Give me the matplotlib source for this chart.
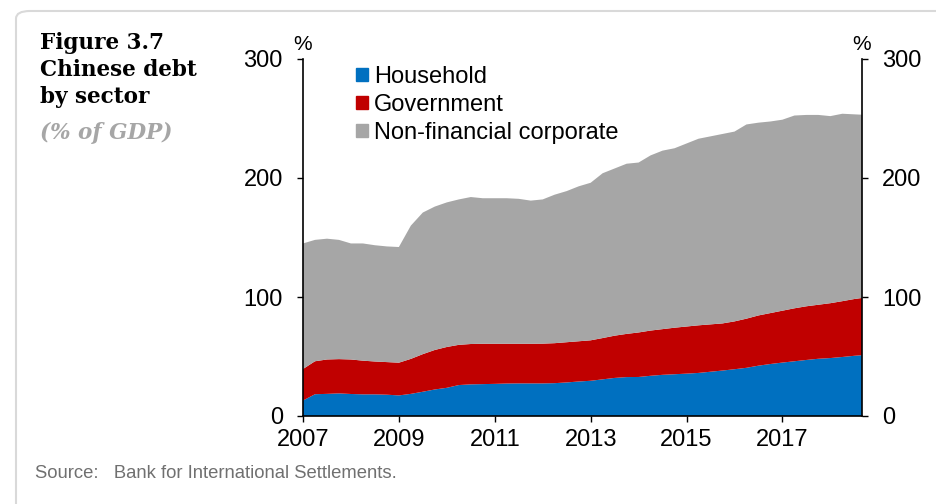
import matplotlib.pyplot as plt
import numpy as np
from matplotlib.patches import FancyBboxPatch, Patch

# quarterly, 2007Q1 .. 2018Q4 placed on a decimal-year axis
years = 2007 + np.arange(48) / 4

household = [13.0, 18.3, 18.6, 19.0, 18.5, 18.2, 18.2, 17.9, 17.3, 18.6, 20.4, 22.3,
             23.7, 26.0, 26.6, 26.8, 27.0, 27.3, 27.4, 27.4, 27.4, 27.6, 28.2, 29.0,
             29.6, 30.8, 32.0, 32.7, 32.8, 33.8, 34.6, 35.1, 35.6, 36.2, 37.2, 38.2,
             39.3, 40.5, 42.3, 43.7, 44.9, 46.0, 47.1, 48.1, 48.7, 49.6, 50.6, 51.4]
government = [26.5, 27.7, 28.9, 28.8, 29.0, 28.3, 27.6, 27.4, 27.5, 29.4, 31.6, 33.2,
              34.3, 33.8, 33.9, 33.9, 33.7, 33.4, 33.3, 33.3, 33.4, 33.6, 33.8, 33.8,
              34.0, 34.7, 35.5, 36.3, 37.4, 38.0, 38.4, 39.1, 39.6, 40.0, 39.8, 39.6,
              40.2, 41.3, 42.2, 42.8, 43.6, 44.5, 45.1, 45.4, 46.1, 46.9, 47.7, 48.3]
corporate = [105.5, 102.0, 101.5, 100.2, 97.5, 98.5, 97.7, 97.2, 97.2, 112.0, 119.0, 120.5,
             121.5, 122.2, 123.5, 122.3, 122.3, 122.3, 121.8, 120.3, 121.2, 124.8, 127.0, 130.2,
             132.4, 138.5, 140.5, 143.0, 142.8, 147.2, 150.0, 150.8, 153.8, 156.8, 158.0, 159.2,
             159.5, 163.2, 162.0, 161.0, 160.5, 162.0, 160.8, 159.5, 157.2, 157.5, 155.2, 153.3]

labels = ['Household', 'Government', 'Non-financial corporate']
colors = ['#0070C0', '#C00000', '#A6A6A6']
xticks = [2007, 2009, 2011, 2013, 2015, 2017]
yticks = [0, 100, 200, 300]

plt.rcParams['font.family'] = ['Liberation Sans', 'DejaVu Sans']

fig = plt.figure(figsize=(9.37, 5.04), dpi=100)

# rounded frame of the panel
frame = FancyBboxPatch((16 / 937, -0.2), 1.2, 1.2 - 11 / 504,
                       boxstyle='round,pad=0,rounding_size=0.015',
                       transform=fig.transFigure, fill=False,
                       edgecolor='#d9d9d9', linewidth=1.5)
fig.patches.append(frame)

fig.text(40 / 937, 1 - 32 / 504, 'Figure 3.7\nChinese debt\nby sector',
         family='DejaVu Serif', weight='bold', fontsize=15.5, va='top',
         linespacing=1.3)
fig.text(40 / 937, 1 - 122 / 504, '(% of GDP)', family='DejaVu Serif',
         weight='bold', style='italic', fontsize=15.5, color='#a6a6a6', va='top')

ax = fig.add_axes([303 / 937, 88 / 504, 559 / 937, 357 / 504])
ax.stackplot(years, household, government, corporate, colors=colors,
             labels=labels, linewidth=0)

ax.set_xlim(2007, 2018.66)
ax.set_ylim(0, 300)
ax.set_xticks(xticks)
ax.set_yticks(yticks)
ax.tick_params(axis='both', labelsize=17, direction='out', length=4.5, width=1)
ax.tick_params(axis='y', left=True, right=True, labelleft=True, labelright=True, pad=10)
ax.tick_params(axis='x', pad=5)
ax.spines['top'].set_visible(False)
for s in ['left', 'right', 'bottom']:
    ax.spines[s].set_linewidth(1.2)

ax.text(0, 1.015, '%', transform=ax.transAxes, ha='center', va='bottom', fontsize=15)
ax.text(1, 1.015, '%', transform=ax.transAxes, ha='center', va='bottom', fontsize=15)

handles = [Patch(color=c) for c in colors]
ax.legend(handles, labels, loc='upper left', bbox_to_anchor=(0.07, 1.02),
          frameon=False, fontsize=17, handlelength=0.5, handleheight=0.5,
          handletextpad=0.25, labelspacing=0.25, borderaxespad=0.2)

fig.text(35 / 937, 1 - 474 / 504, 'Source:   Bank for International Settlements.',
         fontsize=13.3, color='#707070', va='center')

fig.savefig('out.png', dpi=100)
